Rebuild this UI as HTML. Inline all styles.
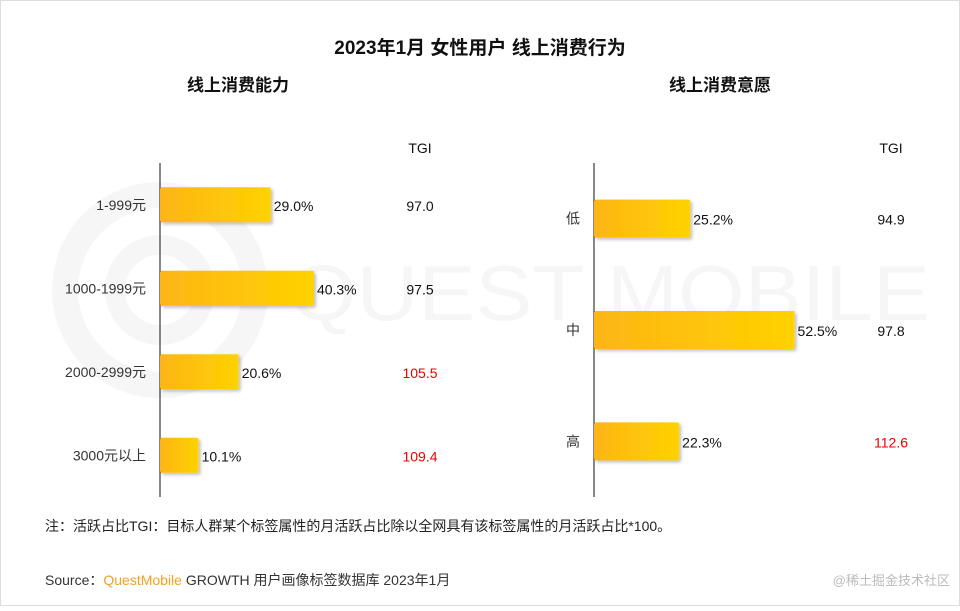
<!DOCTYPE html>
<html><head><meta charset="utf-8"><style>
body{margin:0;background:#fff}
svg text{font-family:"Liberation Sans","Noto Sans CJK SC",sans-serif}
</style></head><body>
<svg width="960" height="606" viewBox="0 0 960 606">
<defs><linearGradient id="g" x1="0" x2="1"><stop offset="0" stop-color="#fdb515"/><stop offset="1" stop-color="#ffd200"/></linearGradient>
<filter id="sh" x="-10%" y="-20%" width="130%" height="160%"><feDropShadow dx="2" dy="2" stdDeviation="1.5" flood-color="#000" flood-opacity="0.25"/></filter></defs>
<rect x="0.5" y="0.5" width="959" height="605" fill="#fff" stroke="#ddd"/>
<g opacity="0.5">
<circle cx="160" cy="290" r="95" fill="none" stroke="#eee" stroke-width="26"/>
<circle cx="160" cy="290" r="45" fill="none" stroke="#eee" stroke-width="20"/>
<text x="290" y="320" font-size="78" fill="#eee" textLength="640" lengthAdjust="spacingAndGlyphs">QUEST MOBILE</text>
</g>
<text x="480" y="54" text-anchor="middle" font-size="19" font-weight="bold" fill="#111">2023年1月 女性用户 线上消费行为</text>
<text x="238" y="91" text-anchor="middle" font-size="17" font-weight="bold" fill="#111">线上消费能力</text>
<text x="720" y="91" text-anchor="middle" font-size="17" font-weight="bold" fill="#111">线上消费意愿</text>
<text x="420" y="153" text-anchor="middle" font-size="14" fill="#111">TGI</text>
<text x="891" y="153" text-anchor="middle" font-size="14" fill="#111">TGI</text>
<line x1="160" y1="163" x2="160" y2="497" stroke="#111"/>
<line x1="594" y1="163" x2="594" y2="497" stroke="#111"/>
<g id="bars"></g>
<text x="45" y="531" font-size="14" fill="#222">注：活跃占比TGI：目标人群某个标签属性的月活跃占比除以全网具有该标签属性的月活跃占比*100。</text>
<text x="45" y="585" font-size="14" fill="#333">Source：<tspan fill="#f5a020">QuestMobile</tspan> GROWTH 用户画像标签数据库 2023年1月</text>
<text x="950" y="585" text-anchor="end" font-size="13" fill="#bbb">@稀土掘金技术社区</text>
</svg>
<script>
const leftCats=["1-999元","1000-1999元","2000-2999元","3000元以上"];
const leftVals=[29.0,40.3,20.6,10.1];
const leftTgi=[97.0,97.5,105.5,109.4];
const rightCats=["低","中","高"];
const rightVals=[25.2,52.5,22.3];
const rightTgi=[94.9,97.8,112.6];
const NS="http://www.w3.org/2000/svg";
const g=document.getElementById("bars");
function el(t,a,txt){const e=document.createElementNS(NS,t);for(const k in a)e.setAttribute(k,a[k]);if(txt!=null)e.textContent=txt;g.appendChild(e);return e;}
function panel(cats,vals,tgi,x0,y0,y1,bh,tgiX,side){
  const xs=v=>v*3.82;
  const step=(y1-y0)/cats.length;
  cats.forEach((c,i)=>{
    const cy=y0+step*(i+0.5);
    const r=el("rect",{x:x0,y:cy-bh/2,width:xs(vals[i]),height:bh,rx:2,fill:"url(#g)",filter:"url(#sh)"});
    
    
    const l=el("text",{x:x0-14,y:cy+5,"text-anchor":"end","font-size":14,fill:"#333"},c);
    
    
    const v=el("text",{x:x0+xs(vals[i])+3,y:cy+6,"font-size":14,fill:"#111"},vals[i].toFixed(1)+"%");
    
    
    const t=el("text",{x:tgiX,y:cy+6,"text-anchor":"middle","font-size":14,fill:tgi[i]>100?"#e00":"#111"},tgi[i].toFixed(1));
    
    
  });
}
panel(leftCats,leftVals,leftTgi,160,163,497,35,420,"left");
panel(rightCats,rightVals,rightTgi,594,163,497,38,891,"right");
</script>
</body></html>
